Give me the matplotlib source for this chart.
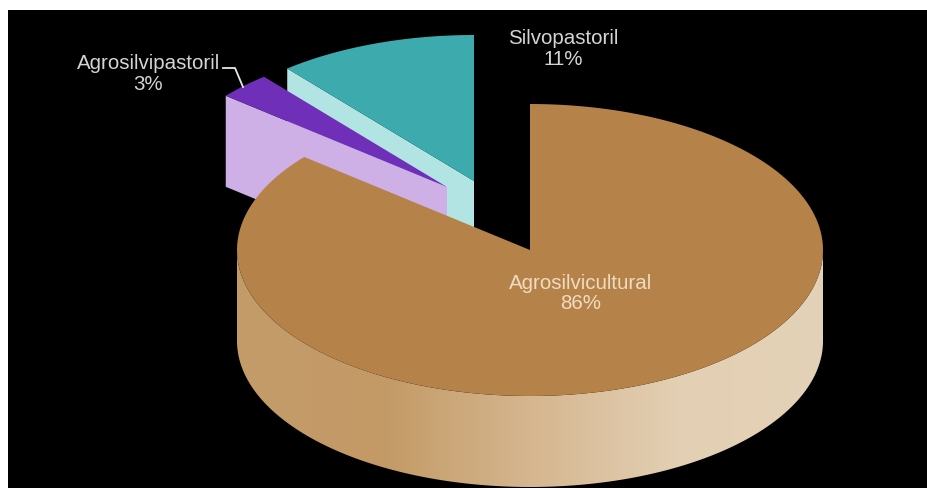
import numpy as np
import matplotlib
matplotlib.use('Agg')
import matplotlib.pyplot as plt
from matplotlib.colors import LinearSegmentedColormap
from matplotlib.patches import Polygon, Rectangle

plt.rcParams['font.family'] = ['Liberation Sans', 'DejaVu Sans']

categories = ['Agrosilvicultural', 'Agrosilvipastoril', 'Silvopastoril']
percent = [86, 3, 11]

RX, RY, DEPTH = 293, 146, 91


def wedge(cx, cy, r, start, end):
    # angles are clockwise from 12 o'clock, in percent of the pie
    t = np.radians(np.linspace(start, end, 200) * 3.6)
    xs = cx + r * RX * np.sin(t)
    ys = cy - r * RY * np.cos(t)
    return np.column_stack([xs, ys])


def draw_slice(ax, cx, cy, r, start, end, top, side):
    arc = wedge(cx, cy, r, start, end)
    tip = [cx, cy]
    # radial face that looks at the viewer
    first = arc[0]
    face = [first, tip, [cx, cy + DEPTH], [first[0], first[1] + DEPTH]]
    ax.add_patch(Polygon(face, closed=True, fc=side, ec='none', zorder=2))
    ax.add_patch(Polygon(np.vstack([[tip], arc]), closed=True, fc=top, ec='none', zorder=3))


fig = plt.figure(figsize=(9.28, 4.88), dpi=100, facecolor='white')
ax = fig.add_axes([0, 0, 1, 1])
ax.axis('off')
ax.add_patch(Rectangle((8, 10), 920, 478, fc='black', ec='none', zorder=0))

# exploded slices behind the big one
s1 = percent[0]
s2 = s1 + percent[1]
s3 = s2 + percent[2]
draw_slice(ax, 474, 181, 1.0, s2, s3, '#3DABAE', '#B3E4E4')
draw_slice(ax, 447, 187, 0.98, s1, s2, '#6F2FB8', '#CFB0E6')

# big slice: side wall with gradient, then top
arc = wedge(530, 250, 1, 0, s1)
wall_top = wedge(530, 250, 1, 25, 75)
wall = np.vstack([wall_top, wall_top[::-1] + [0, DEPTH]])
cmap = LinearSegmentedColormap.from_list('wall', ['#C39C6A', '#C39A66', '#D5B68F', '#E3CFB3', '#E4D2B8'])
grad = ax.imshow(np.linspace(0, 1, 256).reshape(1, -1), cmap=cmap, extent=[237, 823, 488, 100],
                 aspect='auto', interpolation='bilinear', zorder=4)
clip = Polygon(wall, closed=True, transform=ax.transData)
grad.set_clip_path(clip)
ax.set_xlim(0, 928)
ax.set_ylim(488, 0)
ax.add_patch(Polygon(np.vstack([[[530, 250]], arc]), closed=True, fc='#B5834A', ec='none', zorder=5))

# labels
ax.text(581, 293.5, f'{categories[0]}\n{percent[0]}%', color='#EFDCC0', fontsize=14.8, ha='center', va='center',
        linespacing=1.1, zorder=6)
ax.text(148.5, 74, f'{categories[1]}\n{percent[1]}%', color='#D4D4D4', fontsize=14.8, ha='center', va='center',
        linespacing=1.1, zorder=6)
ax.text(563, 49, f'{categories[2]}\n{percent[2]}%', color='#D4D4D4', fontsize=14.8, ha='center', va='center',
        linespacing=1.1, zorder=6)
ax.plot([223, 235, 243], [68, 68, 87], color='#E8E8E8', lw=1.3, zorder=6)

fig.savefig('out.png', dpi=100, facecolor='white')
